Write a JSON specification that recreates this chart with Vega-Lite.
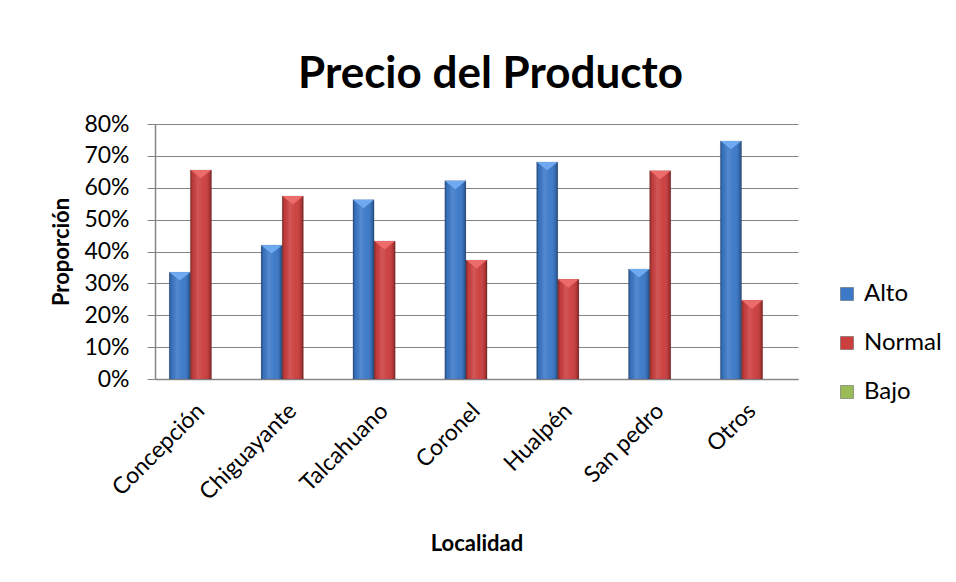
{
  "$schema": "https://vega.github.io/schema/vega-lite/v6.json",
  "autosize": "none",
  "width": 643,
  "height": 255,
  "padding": {"left": 155, "top": 124, "right": 158, "bottom": 203},
  "background": "white",
  "config": {
    "font": "Lato",
    "view": {"stroke": null},
    "axis": {"labelFont": "Lato", "titleFont": "Lato", "labelColor": "#000000", "titleColor": "#000000"}
  },
  "title": {
    "text": "Precio del Producto",
    "font": "Lato",
    "fontSize": 44,
    "fontWeight": "bold",
    "color": "#000000",
    "anchor": "middle",
    "dx": 14,
    "offset": 16
  },
  "data": {
    "values": [
      {"Localidad": "Concepción", "Nivel": "Alto", "Proporcion": 0.335},
      {"Localidad": "Concepción", "Nivel": "Normal", "Proporcion": 0.656},
      {"Localidad": "Concepción", "Nivel": "Bajo", "Proporcion": 0},
      {"Localidad": "Chiguayante", "Nivel": "Alto", "Proporcion": 0.42},
      {"Localidad": "Chiguayante", "Nivel": "Normal", "Proporcion": 0.574},
      {"Localidad": "Chiguayante", "Nivel": "Bajo", "Proporcion": 0},
      {"Localidad": "Talcahuano", "Nivel": "Alto", "Proporcion": 0.562},
      {"Localidad": "Talcahuano", "Nivel": "Normal", "Proporcion": 0.433},
      {"Localidad": "Talcahuano", "Nivel": "Bajo", "Proporcion": 0},
      {"Localidad": "Coronel", "Nivel": "Alto", "Proporcion": 0.622},
      {"Localidad": "Coronel", "Nivel": "Normal", "Proporcion": 0.373},
      {"Localidad": "Coronel", "Nivel": "Bajo", "Proporcion": 0},
      {"Localidad": "Hualpén", "Nivel": "Alto", "Proporcion": 0.681},
      {"Localidad": "Hualpén", "Nivel": "Normal", "Proporcion": 0.313},
      {"Localidad": "Hualpén", "Nivel": "Bajo", "Proporcion": 0},
      {"Localidad": "San pedro", "Nivel": "Alto", "Proporcion": 0.345},
      {"Localidad": "San pedro", "Nivel": "Normal", "Proporcion": 0.653},
      {"Localidad": "San pedro", "Nivel": "Bajo", "Proporcion": 0},
      {"Localidad": "Otros", "Nivel": "Alto", "Proporcion": 0.747},
      {"Localidad": "Otros", "Nivel": "Normal", "Proporcion": 0.247},
      {"Localidad": "Otros", "Nivel": "Bajo", "Proporcion": 0}
    ]
  },
  "encoding": {
    "x": {
      "field": "Localidad",
      "type": "nominal",
      "sort": ["Concepción", "Chiguayante", "Talcahuano", "Coronel", "Hualpén", "San pedro", "Otros"],
      "scale": {"paddingInner": 0.31, "paddingOuter": 0.155},
      "axis": {
        "title": "Localidad",
        "titleFontSize": 22,
        "titleFontWeight": "bold",
        "titleY": 164,
        "titleBaseline": "middle",
        "labelAngle": -45,
        "labelAlign": "right",
        "labelBaseline": "middle",
        "labelFontSize": 23,
        "labelPadding": 28,
        "ticks": false,
        "domainColor": "#868686",
        "domainWidth": 1.5,
        "grid": false
      }
    },
    "xOffset": {
      "field": "Nivel",
      "type": "nominal",
      "scale": {"domain": ["Alto", "Normal", "Bajo"], "paddingInner": 0, "paddingOuter": 0}
    },
    "y": {
      "field": "Proporcion",
      "type": "quantitative",
      "scale": {"domain": [0, 0.8], "nice": false},
      "axis": {
        "title": "Proporción",
        "titleFontSize": 22,
        "titleFontWeight": "bold",
        "titleX": -94,
        "titleY": 127.5,
        "titleBaseline": "middle",
        "titleAngle": 270,
        "titleAlign": "center",
        "format": ".0%",
        "values": [0, 0.1, 0.2, 0.3, 0.4, 0.5, 0.6, 0.7, 0.8],
        "labelFontSize": 23,
        "labelPadding": 18,
        "tickSize": 8,
        "tickColor": "#868686",
        "domainColor": "#868686",
        "domainWidth": 1.5,
        "gridColor": "#868686",
        "gridWidth": 1.2
      }
    }
  },
  "layer": [
    {
      "transform": [{"filter": "datum.Proporcion > 0"}],
      "mark": {"type": "bar", "stroke": "#2b2b2b", "strokeOpacity": 0.25, "strokeWidth": 0.5},
      "encoding": {
        "color": {
          "field": "Nivel",
          "type": "nominal",
          "scale": {"domain": ["Alto", "Normal", "Bajo"], "range": ["#3C79C8", "#CC3F3F", "#9BBB59"]},
          "legend": {
            "title": null,
            "orient": "none",
            "legendX": 680,
            "legendY": 158,
            "direction": "vertical",
            "symbolType": "square",
            "symbolSize": 169,
            "symbolStrokeColor": "#555555",
            "symbolStrokeWidth": 0.5,
            "labelFontSize": 24,
            "labelFont": "Lato",
            "labelColor": "#000000",
            "labelOffset": 5,
            "rowPadding": 25
          }
        }
      }
    },
    {
      "transform": [{"filter": "datum.Proporcion > 0"}],
      "mark": {
        "type": "bar",
        "fill": {
          "gradient": "linear",
          "x1": 0, "y1": 0, "x2": 1, "y2": 0,
          "stops": [
            {"offset": 0, "color": "rgba(0,0,0,0.35)"},
            {"offset": 0.12, "color": "rgba(0,0,0,0.05)"},
            {"offset": 0.35, "color": "rgba(255,255,255,0.12)"},
            {"offset": 0.65, "color": "rgba(255,255,255,0.02)"},
            {"offset": 0.88, "color": "rgba(0,0,0,0.12)"},
            {"offset": 1, "color": "rgba(0,0,0,0.4)"}
          ]
        }
      },
      "encoding": {}
    },
    {
      "transform": [{"filter": "datum.Proporcion > 0"}],
      "mark": {
        "type": "point",
        "filled": true,
        "opacity": 1,
        "shape": "M-1,0 L1,0 L0,0.8 Z",
        "size": 441,
        "strokeWidth": 0
      },
      "encoding": {
        "fill": {
          "condition": {"test": "datum.Nivel === 'Alto'", "value": "#6FAAF0"},
          "value": "#EC6B6B"
        }
      }
    }
  ]
}
